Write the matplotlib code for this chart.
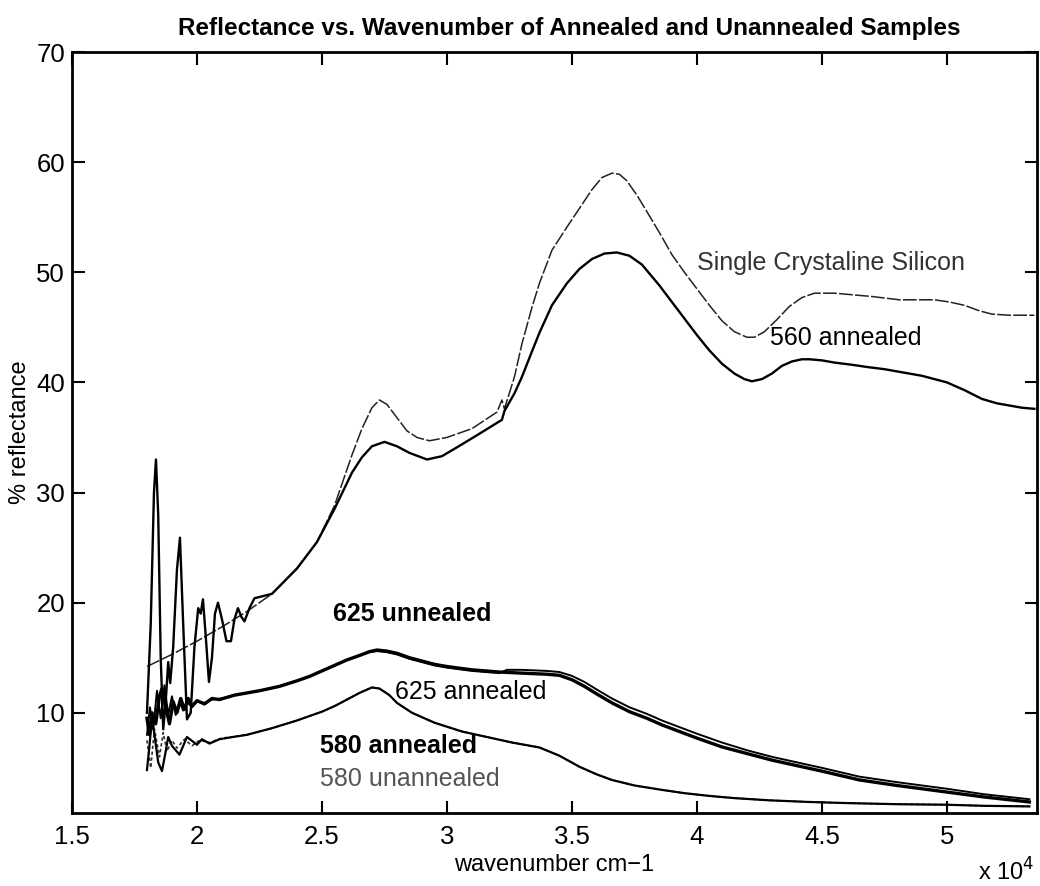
import matplotlib
matplotlib.use('Agg')
import matplotlib.pyplot as plt
from matplotlib.ticker import FuncFormatter

plt.rcParams['font.family'] = ['Liberation Sans', 'DejaVu Sans']

# wavenumber (cm-1) and % reflectance
wn_si = [18000, 19000, 20000, 21000, 22000, 23000, 24000, 24800, 25500, 26200,
         26600, 27000, 27300, 27600, 28000, 28400, 28800, 29300, 30000, 31000,
         32000, 32200, 32300, 32700, 33000, 33400, 33700, 34200, 34800, 35300,
         35800, 36200, 36600, 36900, 37200, 37600, 38000, 38500, 39000, 39500,
         40000, 40500, 41000, 41500, 42000, 42300, 42700, 43200, 43700, 44200,
         44700, 45500, 46000, 47000, 48100, 49000, 49500, 50100, 50700, 51300,
         51800, 52500, 53500]
r_si = [14.2, 15.3, 16.5, 17.8, 19.2, 20.8, 23.1, 25.5, 28.8, 33.4,
        35.8, 37.7, 38.4, 38.0, 36.8, 35.6, 35.0, 34.7, 35.0, 35.8,
        37.3, 38.4, 37.6, 40.5, 43.5, 46.8, 49.0, 52.0, 54.1, 55.8,
        57.5, 58.6, 59.0, 58.9, 58.3, 57.0, 55.5, 53.6, 51.6, 50.0,
        48.5, 47.0, 45.6, 44.6, 44.1, 44.1, 44.6, 45.7, 46.9, 47.7,
        48.1, 48.1, 48.0, 47.8, 47.5, 47.5, 47.5, 47.3, 47.0, 46.5,
        46.2, 46.1, 46.1]

wn_560 = [18000, 18150, 18280, 18360, 18450, 18550, 18650, 18750, 18850, 18930,
          19050, 19200, 19320, 19450, 19600, 19750, 19900, 20050, 20150, 20240,
          20350, 20480, 20600, 20720, 20840, 21000, 21180, 21360, 21500, 21640,
          21780, 21900, 22100, 22300, 23000, 24000, 24800, 25500, 26200, 26600,
          27000, 27500, 28000, 28500, 29200, 29800, 30400, 31200, 32200, 32300,
          32700, 33000, 33400, 33700, 34200, 34800, 35300, 35800, 36300, 36800,
          37300, 37800, 38500, 39000, 39500, 40000, 40500, 41000, 41500, 41900,
          42200, 42600, 43000, 43400, 43800, 44200, 44500, 45000, 45500, 46200,
          46800, 47500, 48000, 49000, 50000, 50700, 51400, 52000, 52500, 53000,
          53500]
r_560 = [10.0, 18, 30, 33.0, 28, 15, 8.5, 11, 14.6, 12.7,
         16, 23, 25.9, 18, 9.4, 10, 16, 19.5, 19, 20.3,
         17, 12.8, 15, 19, 20, 18.5, 16.5, 16.5, 18.5, 19.5,
         18.7, 18.3, 19.5, 20.4, 20.8, 23.1, 25.5, 28.5, 31.8, 33.2,
         34.2, 34.6, 34.2, 33.6, 33.0, 33.3, 34.1, 35.2, 36.6, 37.4,
         39.0, 40.5, 42.8, 44.5, 47.0, 49.0, 50.3, 51.2, 51.7, 51.8,
         51.5, 50.7, 48.8, 47.3, 45.8, 44.3, 42.9, 41.7, 40.8, 40.3,
         40.1, 40.3, 40.8, 41.5, 41.9, 42.1, 42.1, 42.0, 41.8, 41.6,
         41.4, 41.2, 41.0, 40.6, 40.0, 39.3, 38.5, 38.1, 37.9, 37.7,
         37.6]

wn_625u = [18000, 18100, 18200, 18350, 18500, 18600, 18750, 18900, 19050, 19200,
           19350, 19500, 19650, 19800, 20000, 20300, 20600, 20900, 21500, 22500,
           23300, 24000, 24500, 25000, 25500, 26000, 26500, 26900, 27200, 27600,
           28000, 28500, 29000, 29500, 30000, 30500, 31000, 32100, 33000, 34000,
           34500, 35000, 35500, 36000, 36600, 37300, 38000, 38600, 39300, 40000,
           41000, 42000, 43000, 44000, 45000, 46500, 48000, 49000, 50000, 51500,
           53300]
r_625u = [9.5, 8.0, 10.0, 9.0, 11.5, 12.2, 10.5, 9.0, 11.0, 10.0,
          11.3, 10.3, 11.3, 10.6, 11.1, 10.8, 11.3, 11.2, 11.6, 12.0,
          12.4, 12.9, 13.3, 13.8, 14.3, 14.8, 15.2, 15.55, 15.7, 15.6,
          15.4, 15.0, 14.7, 14.4, 14.2, 14.05, 13.9, 13.7, 13.6, 13.5,
          13.4, 13.0, 12.4, 11.7, 10.9, 10.1, 9.5, 8.9, 8.3, 7.7,
          6.9, 6.3, 5.7, 5.2, 4.7, 3.9, 3.4, 3.1, 2.8, 2.35,
          1.9]

wn_625a = [18000, 18120, 18250, 18400, 18550, 18700, 18850, 19000, 19150, 19300,
           19450, 19600, 19800, 20000, 20300, 20600, 21000, 21500, 22500, 23300,
           24000, 24500, 25000, 25500, 26000, 26500, 26900, 27200, 27600, 28000,
           28500, 29000, 29500, 30000, 30500, 31000, 32100, 32400, 33000, 34000,
           34500, 35000, 35500, 36000, 36600, 37300, 38000, 38600, 39300, 40000,
           41000, 42000, 43000, 44000, 45000, 46500, 48000, 49000, 50000, 51500,
           53300]
r_625a = [8.0, 10.5, 8.5, 12.0, 9.5, 12.5, 9.8, 11.5, 9.8, 11.0,
          10.2, 11.0, 10.5, 11.0, 10.9, 11.2, 11.3, 11.6, 12.0, 12.4,
          12.9, 13.3, 13.8, 14.3, 14.8, 15.2, 15.5, 15.6, 15.5, 15.3,
          14.9, 14.6, 14.3, 14.1, 13.95, 13.8, 13.6, 13.9, 13.9, 13.8,
          13.7, 13.35, 12.8, 12.1, 11.3, 10.5, 9.9, 9.3, 8.7, 8.1,
          7.3, 6.6, 6.0, 5.5, 5.0, 4.2, 3.7, 3.4, 3.1, 2.6,
          2.15]

wn_580a = [18000, 18100, 18200, 18300, 18450, 18600, 18750, 18850, 19000, 19300,
           19600, 20000, 20200, 20500, 20900, 21300, 22000, 23000, 24000, 25000,
           25500, 26000, 26500, 26800, 27000, 27300, 27700, 28000, 28600, 29500,
           30600, 31600, 32600, 33700, 34500, 35300, 36000, 36600, 37500, 38600,
           39500, 40500, 41500, 42900, 44500, 46000, 48000, 50000, 51500, 53300]
r_580a = [4.8, 7.0, 9.5, 8.0, 5.5, 4.7, 6.5, 7.8, 7.0, 6.2,
          7.8, 7.1, 7.6, 7.2, 7.6, 7.75, 8.0, 8.6, 9.3, 10.1,
          10.6, 11.2, 11.8, 12.1, 12.3, 12.2, 11.6, 10.9, 10.0, 9.1,
          8.3, 7.8, 7.3, 6.85, 6.1, 5.1, 4.4, 3.9, 3.4, 3.0,
          2.7, 2.45, 2.25, 2.05, 1.9, 1.8, 1.7, 1.65, 1.55, 1.5]

wn_580u = [18000, 18150, 18300, 18500, 18650, 18800, 19000, 19200, 19500, 19800,
           20100, 20500, 21000, 22000, 23000, 24000, 25000, 25500, 26000, 26500,
           26800, 27000, 27300, 27700, 28000, 28600, 29500, 30600, 31600, 32600,
           33700, 34500, 35300, 36000, 36600, 37500, 38600, 39500, 40500, 41500,
           42900, 44500, 46000, 48000, 50000, 51500, 53300]
r_580u = [7.5, 5.0, 8.5, 6.0, 8.2, 6.5, 7.5, 6.8, 7.6, 7.0,
          7.5, 7.3, 7.7, 8.0, 8.6, 9.3, 10.1, 10.6, 11.2, 11.8,
          12.1, 12.3, 12.2, 11.6, 10.9, 10.0, 9.1, 8.3, 7.8, 7.3,
          6.85, 6.1, 5.1, 4.4, 3.9, 3.4, 3.0, 2.7, 2.45, 2.25,
          2.05, 1.9, 1.8, 1.7, 1.65, 1.55, 1.5]

xticks = [15000, 20000, 25000, 30000, 35000, 40000, 45000, 50000]
yticks = [10, 20, 30, 40, 50, 60, 70]

fig = plt.figure(figsize=(10.4, 8.86), dpi=100)
ax = fig.add_axes([0.0692, 0.0824, 0.9278, 0.8589])

ax.plot(wn_si, r_si, color='#222222', lw=1.1, ls=(0, (9, 1.5)))
ax.plot(wn_560, r_560, color='black', lw=1.7)
ax.plot(wn_580u, r_580u, color='#333333', lw=1.2, ls=(0, (2, 1.5)))
ax.plot(wn_580a, r_580a, color='black', lw=1.6)
ax.plot(wn_625a, r_625a, color='black', lw=1.4)
ax.plot(wn_625u, r_625u, color='black', lw=2.4)

fs = 18
ax.text(40000, 50.85, 'Single Crystaline Silicon', fontsize=fs,
        color='#333333', va='center')
ax.text(42920, 44.0, '560 annealed', fontsize=fs, color='black', va='center')
ax.text(25440, 19.0, '625 unnealed', fontsize=fs, color='black',
        va='center', fontweight='bold')
ax.text(27920, 11.9, '625 annealed', fontsize=fs, color='black', va='center')
ax.text(24920, 7.0, '580 annealed', fontsize=fs, color='black',
        va='center', fontweight='bold')
ax.text(24920, 4.0, '580 unannealed', fontsize=fs, color='#555555',
        va='center')

ax.set_xlim(15000, 53600)
ax.set_ylim(0.9, 70)
ax.set_xticks(xticks)
ax.set_yticks(yticks)
ax.xaxis.set_major_formatter(FuncFormatter(lambda v, p: '%g' % (v / 1e4)))
ax.tick_params(direction='in', length=9, width=1.5, top=True, right=True,
               labelsize=18.5)
ax.tick_params(axis='x', pad=9)
ax.tick_params(axis='y', pad=5)
for sp in ax.spines.values():
    sp.set_linewidth(2)

ax.set_xlabel('wavenumber cm\u22121', fontsize=17, labelpad=3)
ax.set_ylabel('% reflectance', fontsize=17, labelpad=4)
ax.set_title('Reflectance vs. Wavenumber of Annealed and Unannealed Samples',
             fontsize=17.5, fontweight='bold', pad=12, x=0.515)
fig.text(0.995, 0.016, r'x 10$^4$', fontsize=17, ha='right', va='center')

fig.savefig('out.png', dpi=100)
